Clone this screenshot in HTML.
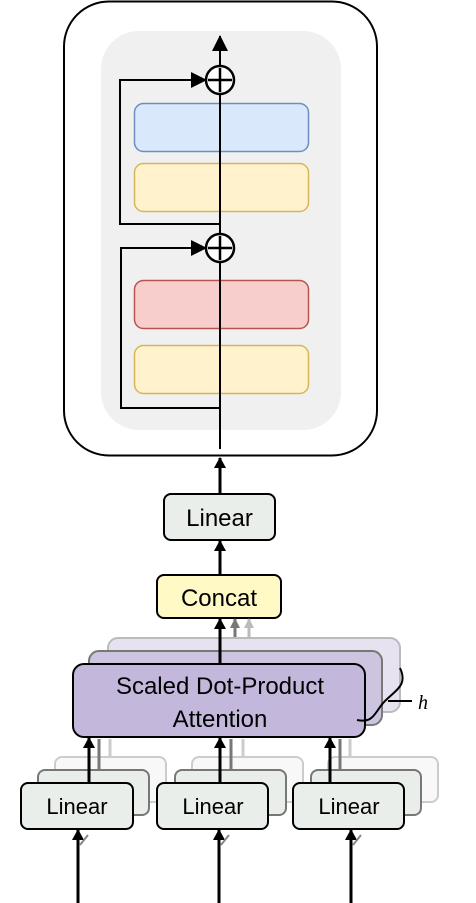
<!DOCTYPE html>
<html><head><style>
body{margin:0;background:#fff;}
svg{display:block;font-family:"Liberation Sans",sans-serif;}
</style></head><body>
<svg width="476" height="903" viewBox="0 0 476 903" xmlns="http://www.w3.org/2000/svg">
<defs>
<marker id="a" markerWidth="11" markerHeight="12" refX="10" refY="6" orient="auto" markerUnits="userSpaceOnUse"><path d="M0,0 L11,6 L0,12z" fill="#000"/></marker>
<marker id="ab" markerWidth="16" markerHeight="16" refX="15" refY="8" orient="auto" markerUnits="userSpaceOnUse"><path d="M0,0 L16,8 L0,16z" fill="#000"/></marker>
<marker id="ag" markerWidth="10" markerHeight="10" refX="9" refY="5" orient="auto" markerUnits="userSpaceOnUse"><path d="M0,0 L10,5 L0,10z" fill="#777"/></marker>
<marker id="al" markerWidth="10" markerHeight="10" refX="9" refY="5" orient="auto" markerUnits="userSpaceOnUse"><path d="M0,0 L10,5 L0,10z" fill="#bbb"/></marker>
</defs>
<rect x="64" y="1.5" width="313" height="454" rx="45" fill="#fff" stroke="#000" stroke-width="2"/>
<rect x="101" y="31" width="240" height="399" rx="38" fill="#f0f0f0"/>
<rect x="134.5" y="103.5" width="174" height="48" rx="9" fill="#dae8fc" stroke="#6c8ebf" stroke-width="1.5"/>
<rect x="134.5" y="163.5" width="174" height="48" rx="9" fill="#fff2cc" stroke="#d6b656" stroke-width="1.5"/>
<rect x="134.5" y="280.5" width="174" height="48" rx="9" fill="#f8cecc" stroke="#b85450" stroke-width="1.5"/>
<rect x="134.5" y="345.5" width="174" height="48" rx="9" fill="#fff2cc" stroke="#d6b656" stroke-width="1.5"/>
<line x1="220" y1="449" x2="220" y2="36" stroke="#000" stroke-width="2" marker-end="url(#ab)"/>
<polyline points="220,224 120,224 120,80 206,80" fill="none" stroke="#000" stroke-width="2" marker-end="url(#ab)"/>
<polyline points="220,408 121,408 121,248 206,248" fill="none" stroke="#000" stroke-width="2" marker-end="url(#ab)"/>
<g stroke="#000" stroke-width="2.5" fill="#fff">
<circle cx="220" cy="80" r="14"/><path d="M208,80h24M220,68v24"/>
<circle cx="220" cy="248" r="14"/><path d="M208,248h24M220,236v24"/>
</g>
<line x1="220" y1="494" x2="220" y2="458" stroke="#000" stroke-width="3" marker-end="url(#a)"/>
<rect x="164" y="494" width="111" height="46" rx="7" fill="#e9eeea" stroke="#000" stroke-width="2"/>
<text x="219.5" y="526" font-size="24" text-anchor="middle">Linear</text>
<line x1="220" y1="574" x2="220" y2="541" stroke="#000" stroke-width="3" marker-end="url(#a)"/>
<rect x="157" y="575" width="124" height="43" rx="7" fill="#fff9c6" stroke="#000" stroke-width="2"/>
<text x="219" y="606" font-size="24" text-anchor="middle">Concat</text>
<line x1="249" y1="637" x2="249" y2="619" stroke="#bbb" stroke-width="3" marker-end="url(#al)"/>
<line x1="235" y1="650" x2="235" y2="619" stroke="#777" stroke-width="3" marker-end="url(#ag)"/>
<rect x="108" y="638" width="292" height="74" rx="10" fill="#e6e2ef" stroke="#bbb" stroke-width="2"/>
<rect x="89" y="651" width="293" height="74" rx="10" fill="#cdc4e0" stroke="#777" stroke-width="2"/>
<line x1="220" y1="663" x2="220" y2="619" stroke="#000" stroke-width="3" marker-end="url(#a)"/>
<rect x="73" y="664" width="292" height="73" rx="11" fill="#c3b8dc" stroke="#000" stroke-width="2"/>
<text x="220" y="694" font-size="24" text-anchor="middle">Scaled Dot-Product</text>
<text x="220" y="727" font-size="24" text-anchor="middle">Attention</text>
<path d="M357,720 C375,724 375,710 386,700 C396,690 408,685 400,668" fill="none" stroke="#000" stroke-width="2"/>
<line x1="388" y1="701" x2="412" y2="701" stroke="#000" stroke-width="2"/>
<text x="418" y="709" font-size="20" font-style="italic" font-family="Liberation Serif,serif">h</text>
<rect x="55" y="757" width="111" height="45" rx="7" fill="#f8f8f8" stroke="#ccc" stroke-width="2"/>
<rect x="38" y="770" width="111" height="45" rx="7" fill="#e9eeea" stroke="#777" stroke-width="2"/>
<line x1="110" y1="757" x2="110" y2="739" stroke="#ccc" stroke-width="3"/>
<line x1="99" y1="770" x2="99" y2="739" stroke="#777" stroke-width="3"/>
<rect x="192" y="757" width="111" height="45" rx="7" fill="#f8f8f8" stroke="#ccc" stroke-width="2"/>
<rect x="175" y="770" width="111" height="45" rx="7" fill="#e9eeea" stroke="#777" stroke-width="2"/>
<line x1="243" y1="757" x2="243" y2="739" stroke="#ccc" stroke-width="3"/>
<line x1="231" y1="770" x2="231" y2="739" stroke="#777" stroke-width="3"/>
<rect x="328" y="757" width="110" height="45" rx="7" fill="#f8f8f8" stroke="#ccc" stroke-width="2"/>
<rect x="311" y="770" width="110" height="45" rx="7" fill="#e9eeea" stroke="#777" stroke-width="2"/>
<line x1="350" y1="757" x2="350" y2="739" stroke="#ccc" stroke-width="3"/>
<line x1="340" y1="770" x2="340" y2="739" stroke="#777" stroke-width="3"/>
<rect x="21" y="783" width="112" height="46" rx="7" fill="#e9eeea" stroke="#000" stroke-width="2"/>
<text x="77" y="814" font-size="22" text-anchor="middle">Linear</text>
<rect x="157" y="783" width="111" height="46" rx="7" fill="#e9eeea" stroke="#000" stroke-width="2"/>
<text x="213" y="814" font-size="22" text-anchor="middle">Linear</text>
<rect x="293" y="783" width="111" height="46" rx="7" fill="#e9eeea" stroke="#000" stroke-width="2"/>
<text x="349" y="814" font-size="22" text-anchor="middle">Linear</text>
<g stroke="#000" stroke-width="3">
<line x1="89" y1="783" x2="89" y2="738" marker-end="url(#a)"/>
<line x1="220" y1="783" x2="220" y2="738" marker-end="url(#a)"/>
<line x1="330" y1="783" x2="330" y2="738" marker-end="url(#a)"/>
<line x1="78" y1="903" x2="78" y2="830" marker-end="url(#a)"/>
<line x1="219" y1="903" x2="219" y2="830" marker-end="url(#a)"/>
<line x1="351" y1="903" x2="351" y2="830" marker-end="url(#a)"/>
</g>
<g stroke="#888" stroke-width="2">
<line x1="80" y1="845" x2="88" y2="835"/><line x1="221" y1="845" x2="229" y2="835"/><line x1="353" y1="845" x2="361" y2="835"/>
</g>
</svg>
</body></html>
